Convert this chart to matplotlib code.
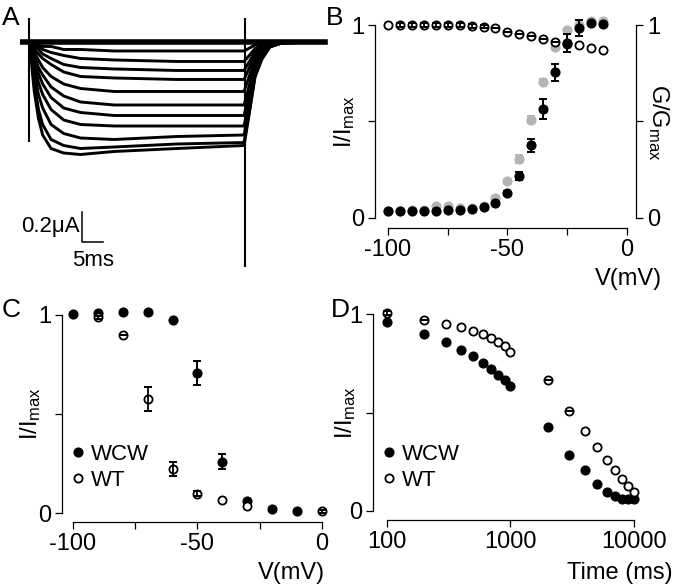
import matplotlib.pyplot as plt
import numpy as np

plt.rcParams['font.family'] = ['Liberation Sans', 'DejaVu Sans']
plt.rcParams['mathtext.default'] = 'regular'
plt.rcParams['axes.unicode_minus'] = False

W, H = 677, 587
nan = np.nan

# ---- A: current traces (uA, inward shown downward)
pulse_t = [0, 0.5, 1, 2, 3, 5, 8, 12, 20, 35, 51]
traces = [
    [0, 0, 0, 0, 0, 0, 0, 0, 0, 0, 0],
    [0, .01, .01, .02, .03, .03, .05, .05, .06, .06, .06],
    [0, .01, .02, .03, .05, .07, .09, .11, .12, .13, .13],
    [0, .02, .03, .05, .08, .11, .15, .17, .18, .19, .19],
    [0, .03, .05, .08, .11, .15, .20, .23, .24, .25, .25],
    [0, .03, .07, .12, .17, .23, .28, .31, .33, .33, .33],
    [0, .05, .09, .17, .22, .30, .36, .40, .42, .42, .42],
    [0, .06, .12, .21, .28, .37, .44, .47, .49, .49, .49],
    [0, .09, .16, .27, .35, .45, .52, .55, .56, .56, .56],
    [0, .11, .21, .35, .44, .55, .61, .64, .65, .63, .62],
    [0, .15, .27, .45, .55, .65, .69, .71, .70, .68, .67],
    [0, .19, .33, .51, .62, .71, .74, .75, .73, .71, .69],
]
pre_t = -1.9
tail_t = [52.4, 53.6, 55.2, 57.1, 60, 70.2]
tail_frac = [0.65, 0.34, 0.17, 0.05, 0.01, 0]
artifact_t = [-0.2, 51.2]
artifact_lo = [-0.67, -1.5]
artifact_hi = [0.16, 0.16]

# ---- B: activation / inactivation vs voltage
V_b = [-100, -95, -90, -85, -80, -75, -70, -65, -60, -55,
       -50, -45, -40, -35, -30, -25, -20, -15, -10]
b_open = [1.0, 1.0, 1.0, 1.0, 1.0, 1.0, 1.0, 0.995, 0.99, 0.983,
          0.965, 0.955, 0.942, 0.93, 0.912, 0.90, 0.895, 0.88, 0.87]
b_open_err = [nan, .008, .008, .008, .008, .008, .008, .008, .008, 0,
              0, 0, 0, 0, 0, nan, nan, nan, nan]
b_black = [0.034, 0.034, 0.038, 0.034, 0.038, 0.043, 0.043, 0.047, 0.057, 0.078,
           0.13, 0.216, 0.376, 0.565, 0.755, 0.906, 0.984, 1.01, 1.005]
b_black_err = [nan, nan, nan, nan, nan, nan, nan, nan, nan, nan,
               0.01, 0.02, 0.035, 0.05, 0.045, 0.045, 0.04, nan, nan]
b_grey = [0.035, 0.035, 0.04, 0.04, 0.06, 0.06, 0.05, 0.05, 0.06, 0.103,
          0.19, 0.307, 0.51, 0.707, 0.886, 0.974, 1.0, 1.02, 1.02]
b_grey_err = [nan, nan, nan, nan, nan, nan, nan, nan, nan, nan,
              nan, 0.02, 0.02, 0.015, nan, nan, nan, nan, nan]

# ---- C: steady-state inactivation
V_c_wcw = [-100, -90, -80, -70, -60, -50, -40, -30, -20, -10]
c_wcw = [1.005, 1.01, 1.013, 1.015, 0.975, 0.706, 0.26, 0.059, 0.02, 0.013]
c_wcw_err = [nan, nan, nan, nan, nan, 0.062, 0.04, nan, nan, nan]
V_c_wt = [-90, -80, -70, -60, -50, -40, -30, 0]
c_wt = [0.988, 0.9, 0.575, 0.224, 0.097, 0.064, 0.037, 0.008]
c_wt_err = [0.008, 0, 0.06, 0.035, 0.012, nan, nan, 0.008]

# ---- D: recovery / time course
t_d = [100, 200, 300, 400, 500, 600, 700, 800, 900, 1000,
       2000, 3000, 4000, 5000, 6000, 7000, 8000, 9000, 10000]
d_wcw = [0.96, 0.9, 0.856, 0.817, 0.786, 0.754, 0.72, 0.69, 0.664, 0.636,
         0.424, 0.283, 0.207, 0.139, 0.097, 0.076, 0.059, 0.059, 0.059]
d_wt = [1.005, 0.97, 0.95, 0.932, 0.915, 0.897, 0.876, 0.856, 0.837, 0.808,
        0.664, 0.51, 0.405, 0.324, 0.259, 0.208, 0.163, 0.129, 0.098]
d_wt_err = [0.01, 0, nan, nan, nan, nan, nan, nan, nan, nan,
            0, 0, nan, nan, nan, nan, nan, nan, nan]

GREY = '#b4b4b4'
MS = 6.3
TICK_FS = 17
LAB_FS = 17


def box(l, t, r, b):
    return [l / W, 1 - b / H, (r - l) / W, (b - t) / H]


def ftext(fig, x, y, s, **kw):
    fig.text(x / W, 1 - y / H, s, **kw)


def style_axes(ax):
    for s in ax.spines.values():
        s.set_linewidth(0.9)
    ax.spines['top'].set_visible(False)
    ax.spines['right'].set_visible(False)
    ax.tick_params(direction='out', length=5, width=0.9, labelsize=TICK_FS, pad=3)
    ax.set_yticks([0, 0.5, 1])
    ax.set_yticklabels(['0', '', '1'])
    ax.spines['left'].set_bounds(0, 1)


def filled(ax, x, y, err, color='black', z=3):
    ax.errorbar(x, y, yerr=err, fmt='none', ecolor=color, elinewidth=1.4,
                capsize=3.2, capthick=1.4, zorder=z, clip_on=False)
    return ax.plot(x, y, 'o', color=color, ms=MS, mec=color, zorder=z + 0.5,
                   clip_on=False)[0]


def hollow(ax, x, y, err, z=5):
    h = ax.plot(x, y, 'o', mfc='white', mec='black', mew=1.3, ms=MS - 0.4,
                zorder=z, clip_on=False)[0]
    ax.errorbar(x, y, yerr=err, fmt='none', ecolor='black', elinewidth=1.3,
                capsize=2.8, capthick=1.4, zorder=z + 0.5, clip_on=False)
    return h


fig = plt.figure(figsize=(W / 100, H / 100), dpi=100)

# ---------------- A
axA = fig.add_axes(box(20, 10, 328, 290))
axA.set_xlim(-2.4, 71.0)
axA.set_ylim(-1.653, 0.213)
axA.axis('off')
for i, tr in enumerate(traces):
    end = tr[-1]
    t = [pre_t] + pulse_t + tail_t
    v = [0] + [-a for a in tr] + [-end * f for f in tail_frac]
    axA.plot(t, v, color='black', lw=4 if i == 0 else 2.1,
             solid_joinstyle='round')
axA.vlines(artifact_t, artifact_lo, artifact_hi, color='black', lw=1.5)
# scale bar: 0.2 uA, 5 ms
bar_t, bar_y = 12.4, -1.333
axA.plot([bar_t, bar_t, bar_t + 5], [bar_y + 0.2, bar_y, bar_y], color='black', lw=1.1)
axA.text(bar_t - 0.5, bar_y + 0.1, '0.2\u03bcA', ha='right', va='center', fontsize=16)
axA.text(bar_t + 2.5, bar_y - 0.125, '5ms', ha='center', va='center', fontsize=16)

# ---------------- B
axB = fig.add_axes(box(375, 20, 636, 228))
style_axes(axB)
axB.set_xlim(-105.4, 3.8)
axB.set_ylim(-0.052, 1.026)
axB.spines['right'].set_visible(True)
axB.spines['right'].set_bounds(0, 1)
axB.spines['bottom'].set_bounds(-100, 0)
axB.tick_params(right=True, labelright=True)
axB.set_xticks([-100, -75, -50, -25, 0])
axB.set_xticklabels(['-100', '', '-50', '', '0'])
filled(axB, V_b, b_grey, b_grey_err, color=GREY, z=2)
hollow(axB, V_b, b_open, b_open_err, z=4)
filled(axB, V_b, b_black, b_black_err, z=6)

# ---------------- C
axC = fig.add_axes(box(62, 308, 330, 522))
style_axes(axC)
axC.set_xlim(-104.4, 3.2)
axC.set_ylim(-0.045, 1.035)
axC.spines['bottom'].set_bounds(-100, 0)
axC.set_xticks([-100, -75, -50, -25, 0])
axC.set_xticklabels(['-100', '', '-50', '', '0'])
hc1 = filled(axC, V_c_wcw, c_wcw, c_wcw_err, z=2)
hc2 = hollow(axC, V_c_wt, c_wt, c_wt_err, z=4)
axC.legend([hc1, hc2], ['WCW', 'WT'], loc='center left',
           bbox_to_anchor=(0.040, 0.255), frameon=False, handlelength=0.5,
           handletextpad=0.3, labelspacing=0.2, borderpad=0, borderaxespad=0,
           fontsize=16)

# ---------------- D
axD = fig.add_axes(box(373, 307, 640, 520))
style_axes(axD)
axD.set_xscale('log')
axD.set_xlim(77.1, 11190)
axD.set_ylim(-0.046, 1.036)
axD.spines['bottom'].set_bounds(100, 10000)
axD.set_xticks([100, 1000, 10000])
axD.set_xticklabels(['100', '1000', '10000'])
axD.xaxis.set_minor_locator(plt.NullLocator())
hd1 = filled(axD, t_d, d_wcw, [nan] * len(t_d), z=2)
hd2 = hollow(axD, t_d, d_wt, d_wt_err, z=4)
axD.legend([hd1, hd2], ['WCW', 'WT'], loc='center left',
           bbox_to_anchor=(0.040, 0.2465), frameon=False, handlelength=0.5,
           handletextpad=0.3, labelspacing=0.2, borderpad=0, borderaxespad=0,
           fontsize=16)

# ---------------- labels
ylab = 'I/I$_{max}$'
ftext(fig, 345, 122, ylab, rotation=90, ha='center', va='center', fontsize=LAB_FS)
ftext(fig, 658, 122, 'G/G$_{max}$', rotation=270, ha='center', va='center', fontsize=LAB_FS)
ftext(fig, 662, 279, 'V(mV)', ha='right', va='center', fontsize=LAB_FS)
ftext(fig, 31, 414, ylab, rotation=90, ha='center', va='center', fontsize=LAB_FS)
ftext(fig, 325, 573, 'V(mV)', ha='right', va='center', fontsize=LAB_FS)
ftext(fig, 346, 413, ylab, rotation=90, ha='center', va='center', fontsize=LAB_FS)
ftext(fig, 673, 573, 'Time (ms)', ha='right', va='center', fontsize=LAB_FS)

for letter, x, y in [('A', 2, 25), ('B', 326, 25), ('C', 2, 317), ('D', 331, 317)]:
    ftext(fig, x, y, letter, ha='left', va='baseline', fontsize=19)

fig.savefig('out.png', dpi=100)
